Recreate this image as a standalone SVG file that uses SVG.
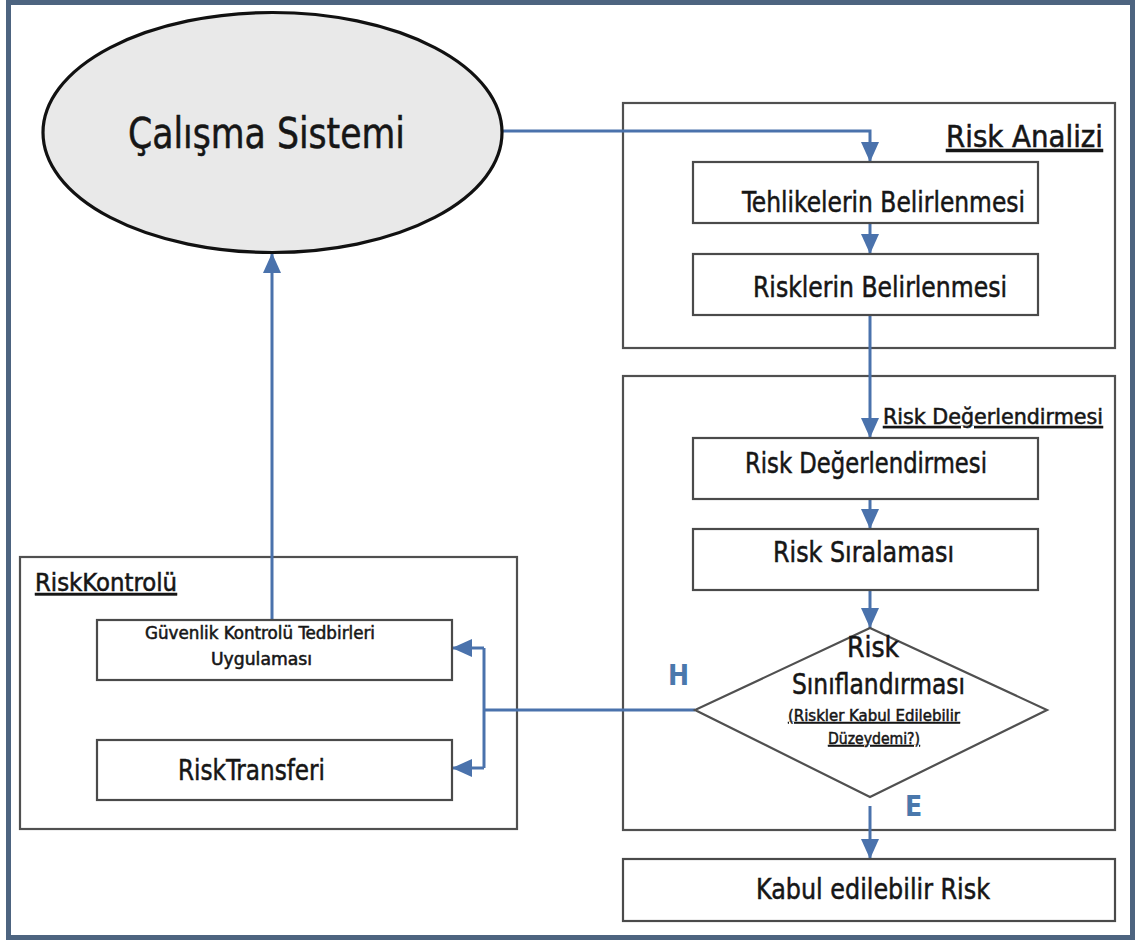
<svg xmlns="http://www.w3.org/2000/svg" width="1135" height="941" viewBox="0 0 1135 941">
  <defs>
    <marker id="arrow" markerUnits="userSpaceOnUse" markerWidth="20" markerHeight="18" viewBox="0 0 20 18" refX="20" refY="9" orient="auto">
      <path d="M0,0 L20,9 L0,18 Z" fill="#4a72ac"/>
    </marker>
    <style>
      .box { fill: #ffffff; stroke: #4a4a4a; stroke-width: 2.2; }
      .group { fill: none; stroke: #505050; stroke-width: 2.2; }
      .t { font-family: "Liberation Sans Narrow", "DejaVu Sans Condensed", "Roboto Condensed", sans-serif; fill: #161616; stroke: #161616; stroke-width: 0.5; }
      .u { text-decoration: underline; }
      .conn { fill: none; stroke: #4a72ac; stroke-width: 3; }
      .yn { font-family: "Liberation Sans Narrow", "DejaVu Sans Condensed", sans-serif; font-weight: bold; fill: #4a78ac; font-size: 28px; }
    </style>
  </defs>

  <rect x="0" y="0" width="1135" height="941" fill="#ffffff"/>
  <!-- outer frame -->
  <rect x="8.5" y="2.5" width="1124" height="935" fill="none" stroke="#4d6480" stroke-width="5"/>

  <!-- group frames -->
  <g id="risk-analizi">
    <rect class="group" x="623" y="103" width="492" height="245"/>
    <text class="t u" x="946" y="147" font-size="30" textLength="157" lengthAdjust="spacingAndGlyphs">Risk Analizi</text>
  </g>
  <g id="risk-degerlendirmesi-grup">
    <rect class="group" x="623" y="376" width="492" height="454"/>
    <text class="t u" x="883" y="424" font-size="21" textLength="220" lengthAdjust="spacingAndGlyphs">Risk Değerlendirmesi</text>
  </g>
  <g id="risk-kontrolu">
    <rect class="group" x="20" y="557" width="497" height="272"/>
    <text class="t u" x="35" y="591" font-size="24" textLength="142" lengthAdjust="spacingAndGlyphs">RiskKontrolü</text>
  </g>

  <!-- connectors -->
  <g id="connectors">
    <path class="conn" d="M502,131 H870 V162" marker-end="url(#arrow)"/>
    <path class="conn" d="M870,223 V254" marker-end="url(#arrow)"/>
    <path class="conn" d="M870,315 V438" marker-end="url(#arrow)"/>
    <path class="conn" d="M870,499 V529" marker-end="url(#arrow)"/>
    <path class="conn" d="M870,590 V628" marker-end="url(#arrow)"/>
    <path class="conn" d="M870,806 V859" marker-end="url(#arrow)"/>
    <path class="conn" d="M695,710 H484"/>
    <path class="conn" d="M484,648 V768"/>
    <path class="conn" d="M484,648 H452" marker-end="url(#arrow)"/>
    <path class="conn" d="M484,768 H452" marker-end="url(#arrow)"/>
    <path class="conn" d="M272,620 V253" marker-end="url(#arrow)"/>
    <text class="yn" x="668" y="685">H</text>
    <text class="yn" x="905" y="816">E</text>
  </g>

  <!-- nodes -->
  <g id="calisma-sistemi">
    <ellipse cx="272.5" cy="132.5" rx="229.5" ry="120" fill="#e9e9e9" stroke="#111111" stroke-width="3.2"/>
    <text class="t" x="128" y="148" font-size="42" textLength="277" lengthAdjust="spacingAndGlyphs">Çalışma Sistemi</text>
  </g>

  <g id="tehlikelerin-belirlenmesi">
    <rect class="box" x="693" y="162" width="345" height="61"/>
    <text class="t" x="742" y="212" font-size="29" textLength="283" lengthAdjust="spacingAndGlyphs">Tehlikelerin Belirlenmesi</text>
  </g>

  <g id="risklerin-belirlenmesi">
    <rect class="box" x="693" y="254" width="345" height="61"/>
    <text class="t" x="753" y="297" font-size="29" textLength="254" lengthAdjust="spacingAndGlyphs">Risklerin Belirlenmesi</text>
  </g>

  <g id="risk-degerlendirmesi">
    <rect class="box" x="693" y="438" width="345" height="61"/>
    <text class="t" x="745" y="473" font-size="29" textLength="242" lengthAdjust="spacingAndGlyphs">Risk Değerlendirmesi</text>
  </g>

  <g id="risk-siralamasi">
    <rect class="box" x="693" y="529" width="345" height="61"/>
    <text class="t" x="773" y="562" font-size="29" textLength="181" lengthAdjust="spacingAndGlyphs">Risk Sıralaması</text>
  </g>

  <g id="risk-siniflandirmasi">
    <path d="M870,628 L1047,710 L870,797 L695,710 Z" fill="#ffffff" stroke="#505050" stroke-width="2.2"/>
    <text class="t" x="873" y="657" font-size="28" text-anchor="middle">Risk</text>
    <text class="t" x="792" y="694" font-size="28" textLength="173" lengthAdjust="spacingAndGlyphs">Sınıflandırması</text>
    <text class="t u" x="788" y="721" font-size="16" textLength="172" lengthAdjust="spacingAndGlyphs">(Riskler Kabul Edilebilir</text>
    <text class="t u" x="828" y="744" font-size="16" textLength="92" lengthAdjust="spacingAndGlyphs">Düzeydemi?)</text>
  </g>

  <g id="kabul-edilebilir-risk">
    <rect class="box" x="623" y="859" width="492" height="62"/>
    <text class="t" x="756" y="899" font-size="28" textLength="234" lengthAdjust="spacingAndGlyphs">Kabul edilebilir  Risk</text>
  </g>

  <g id="guvenlik-kontrolu">
    <rect class="box" x="97" y="620" width="355" height="60"/>
    <text class="t" x="145" y="639" font-size="17" textLength="230" lengthAdjust="spacingAndGlyphs">Güvenlik Kontrolü Tedbirleri</text>
    <text class="t" x="211" y="665" font-size="17" textLength="101" lengthAdjust="spacingAndGlyphs">Uygulaması</text>
  </g>

  <g id="risk-transferi">
    <rect class="box" x="97" y="740" width="355" height="60"/>
    <text class="t" x="178" y="780" font-size="29" textLength="147" lengthAdjust="spacingAndGlyphs">RiskTransferi</text>
  </g>
</svg>
